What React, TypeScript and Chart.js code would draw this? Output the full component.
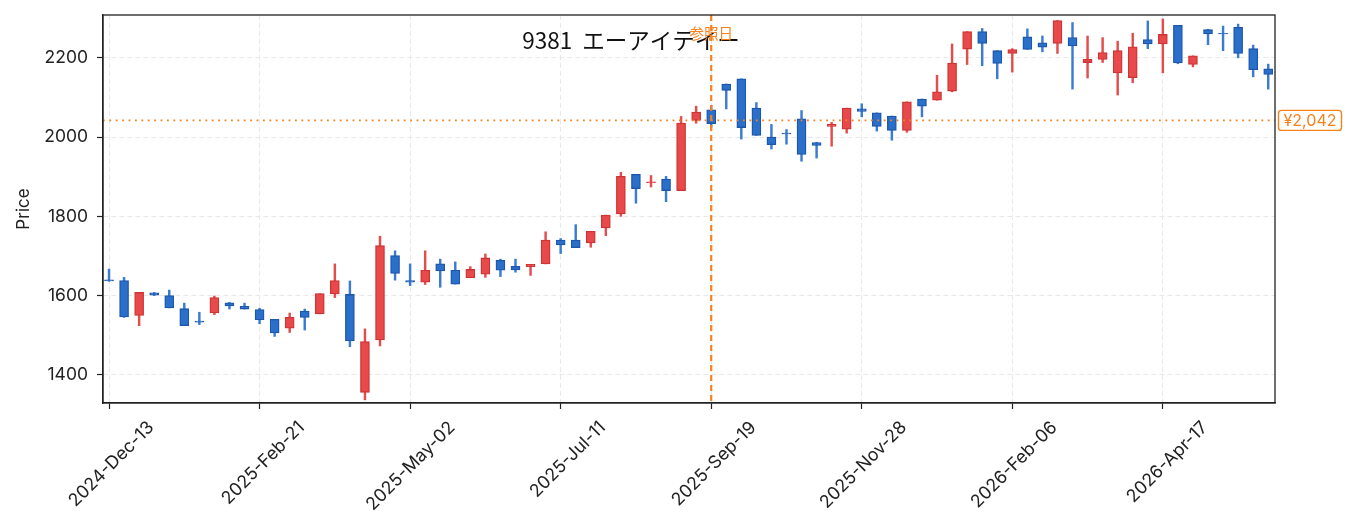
import React, { useEffect, useRef } from "react";
import Chart from "chart.js/auto";

Chart.defaults.font.family = 'Inter, "Noto Sans", sans-serif';

// weekly candles starting 2024-12-13 (index 0)
const opens = [
  1640, 1638, 1550, 1607, 1600, 1567, 1536, 1556, 1582, 1573,
  1565, 1540, 1518, 1561, 1554, 1604, 1603, 1356, 1488, 1701,
  1638, 1634, 1680, 1664, 1645, 1654, 1689, 1674, 1673, 1680,
  1740, 1740, 1733, 1771, 1806, 1906, 1885, 1894, 1865, 2042,
  2069, 2134, 2147, 2073, 2000, 2010, 2046, 1986, 2027, 2020,
  2071, 2061, 2053, 2017, 2096, 2093, 2116, 2222, 2266, 2218,
  2211, 2253, 2238, 2236, 2251, 2188, 2196, 2162, 2150, 2246,
  2235, 2282, 2183, 2271, 2262, 2277, 2223, 2172,
];
const highs = [
  1667, 1646, 1608, 1608, 1614, 1581, 1558, 1599, 1583, 1581,
  1568, 1540, 1556, 1566, 1605, 1680, 1637, 1516, 1750, 1713,
  1680, 1713, 1692, 1685, 1673, 1705, 1692, 1692, 1679, 1761,
  1744, 1779, 1762, 1803, 1911, 1906, 1903, 1901, 2052, 2078,
  2080, 2134, 2147, 2087, 2032, 2019, 2067, 1987, 2037, 2073,
  2084, 2061, 2053, 2089, 2096, 2156, 2235, 2266, 2274, 2218,
  2223, 2273, 2255, 2294, 2289, 2255, 2251, 2242, 2262, 2293,
  2298, 2282, 2205, 2272, 2280, 2285, 2232, 2184,
];
const lows = [
  1636, 1545, 1524, 1600, 1569, 1524, 1527, 1552, 1566, 1566,
  1529, 1497, 1507, 1513, 1554, 1595, 1471, 1337, 1473, 1639,
  1625, 1628, 1621, 1629, 1645, 1646, 1648, 1659, 1651, 1680,
  1706, 1721, 1722, 1751, 1800, 1833, 1874, 1837, 1865, 2035,
  2025, 2071, 1995, 2004, 1970, 1982, 1939, 1947, 1977, 2010,
  2051, 2015, 1992, 2012, 2051, 2093, 2114, 2183, 2180, 2147,
  2164, 2221, 2215, 2211, 2121, 2149, 2188, 2106, 2137, 2223,
  2162, 2185, 2177, 2233, 2218, 2200, 2152, 2121,
];
const closes = [
  1637, 1546, 1608, 1601, 1569, 1524, 1533, 1595, 1574, 1566,
  1539, 1506, 1545, 1545, 1605, 1638, 1486, 1484, 1726, 1656,
  1634, 1664, 1662, 1629, 1666, 1695, 1664, 1665, 1679, 1740,
  1728, 1721, 1762, 1803, 1901, 1870, 1887, 1865, 2035, 2063,
  2034, 2118, 2024, 2004, 1981, 2008, 1956, 1979, 2032, 2073,
  2065, 2027, 2017, 2089, 2078, 2114, 2187, 2266, 2236, 2186,
  2221, 2221, 2227, 2294, 2230, 2196, 2213, 2218, 2228, 2235,
  2259, 2187, 2205, 2260, 2260, 2211, 2170, 2158,
];

const tickIdx = [0, 10, 20, 30, 40, 50, 60, 70];
const tickLabels = [
  "2024-Dec-13", "2025-Feb-21", "2025-May-02", "2025-Jul-11",
  "2025-Sep-19", "2025-Nov-28", "2026-Feb-06", "2026-Apr-17",
];
const yTicks = [1400, 1600, 1800, 2000, 2200];

const TITLE = "9381  エーアイテイー";
const REF_PRICE = 2042;
const REF_INDEX = 40;
const REF_LABEL = "参照日";

const UP_FILL = "#e8494b";
const UP_LINE = "#cf3434";
const UP_WICK = "#e24e4e";
const DN_FILL = "#2a6fc9";
const DN_LINE = "#1d56ad";
const DN_WICK = "#3a7dd0";
const ORANGE = "#f5821f";
const TEXT = "#222222";

const isUp = (i: number) => closes[i] >= opens[i];

const overlay = {
  id: "overlay",
  afterDatasetsDraw(chart: Chart) {
    const { ctx, chartArea: a } = chart;
    const x = chart.scales.x;
    const y = chart.scales.y;
    const yy = y.getPixelForValue(REF_PRICE);
    const xx = x.getPixelForValue(REF_INDEX);
    ctx.save();

    // title inside the plot
    ctx.font = '22.5px "Noto Sans CJK JP", sans-serif';
    ctx.fillStyle = "#111";
    ctx.textAlign = "center";
    ctx.textBaseline = "middle";
    ctx.fillText(TITLE, a.left + 528, a.top + 25);

    // reference price line
    ctx.strokeStyle = ORANGE;
    ctx.lineWidth = 1.8;
    ctx.setLineDash([1.8, 4.6]);
    ctx.beginPath();
    ctx.moveTo(a.left, yy);
    ctx.lineTo(a.right, yy);
    ctx.stroke();

    // reference date line
    ctx.lineWidth = 2.2;
    ctx.setLineDash([6, 4]);
    ctx.beginPath();
    ctx.moveTo(xx, a.top);
    ctx.lineTo(xx, a.bottom);
    ctx.stroke();

    ctx.font = '14.5px "Noto Sans CJK JP", sans-serif';
    ctx.fillStyle = ORANGE;
    ctx.fillText(REF_LABEL, xx, a.top + 18);

    // frame
    ctx.setLineDash([]);
    ctx.strokeStyle = TEXT;
    ctx.lineWidth = 1.3;
    ctx.strokeRect(a.left, a.top, a.width, a.height);

    // price tag
    const label = "¥" + REF_PRICE.toLocaleString("en-US");
    const bx = a.right + 3.5;
    const bw = 63;
    const bh = 20;
    ctx.fillStyle = "#fff";
    ctx.strokeStyle = ORANGE;
    ctx.lineWidth = 1.4;
    ctx.beginPath();
    ctx.roundRect(bx, yy - bh / 2, bw, bh, 3);
    ctx.fill();
    ctx.stroke();
    ctx.font = "16px Inter, sans-serif";
    ctx.fillStyle = ORANGE;
    ctx.fillText(label, bx + bw / 2, yy + 0.5);
    ctx.restore();
  },
};

const App = () => {
  const canvasRef = useRef<HTMLCanvasElement | null>(null);

  useEffect(() => {
    if (!canvasRef.current) return;
    const idx = opens.map((_, i) => i);

    const chart = new Chart(canvasRef.current, {
      type: "bar",
      data: {
        datasets: [
          {
            label: "body",
            data: idx.map((i) => ({ x: i, y: [opens[i], closes[i]] })) as any,
            backgroundColor: idx.map((i) => (isUp(i) ? UP_FILL : DN_FILL)),
            borderColor: idx.map((i) => (isUp(i) ? UP_LINE : DN_LINE)),
            borderWidth: 1.3,
            borderSkipped: false,
            barThickness: 9,
            grouped: false,
          },
          {
            label: "wick",
            data: idx.map((i) => ({ x: i, y: [lows[i], highs[i]] })) as any,
            backgroundColor: idx.map((i) => (isUp(i) ? UP_WICK : DN_WICK)),
            borderWidth: 0,
            barThickness: 1.8,
            grouped: false,
          },
        ],
      },
      options: {
        animation: false,
        responsive: true,
        maintainAspectRatio: false,
        events: [],
        layout: { padding: { left: 0, right: 78, top: 15, bottom: 0 } },
        plugins: {
          legend: { display: false },
          tooltip: { enabled: false },
        },
        scales: {
          x: {
            type: "linear",
            min: -0.4,
            max: 77.45,
            offset: false,
            afterBuildTicks: (s: any) => {
              s.ticks = tickIdx.map((v) => ({ value: v }));
            },
            afterFit: (s: any) => {
              s.height = 128;
              s.paddingLeft = 0;
              s.paddingRight = 0;
            },
            ticks: {
              autoSkip: false,
              maxRotation: 45,
              minRotation: 45,
              padding: 8,
              labelOffset: 42,
              color: TEXT,
              font: { size: 17.8 },
              callback: (v: any) => tickLabels[tickIdx.indexOf(Number(v))] ?? "",
            },
            grid: {
              offset: false,
              color: "#e8e8e8",
              lineWidth: 1,
              tickColor: TEXT,
              tickLength: 6,
              tickWidth: 1.2,
            },
            border: { display: true, color: TEXT, width: 1.3, dash: [5, 3] },
          },
          y: {
            min: 1329,
            max: 2308,
            afterBuildTicks: (s: any) => {
              s.ticks = yTicks.map((v) => ({ value: v }));
            },
            afterFit: (s: any) => {
              s.width = 103;
              s.paddingTop = 0;
              s.paddingBottom = 0;
            },
            title: {
              display: true,
              text: "Price",
              color: TEXT,
              font: { size: 17 },
              padding: { top: 14, bottom: 0 },
            },
            ticks: {
              padding: 9,
              color: TEXT,
              font: { size: 17.5 },
              callback: (v: any) => String(v),
            },
            grid: {
              color: "#e8e8e8",
              lineWidth: 1,
              tickColor: TEXT,
              tickLength: 6,
              tickWidth: 1.2,
            },
            border: { display: true, color: TEXT, width: 1.3, dash: [5, 3] },
          },
        },
      },
      plugins: [overlay],
    });

    return () => {
      chart.destroy();
    };
  }, []);

  return (
    <div style={{ position: "fixed", left: 0, top: 0, width: 1353, height: 531, background: "#fff" }}>
      <canvas ref={canvasRef} />
    </div>
  );
};

export default App;
